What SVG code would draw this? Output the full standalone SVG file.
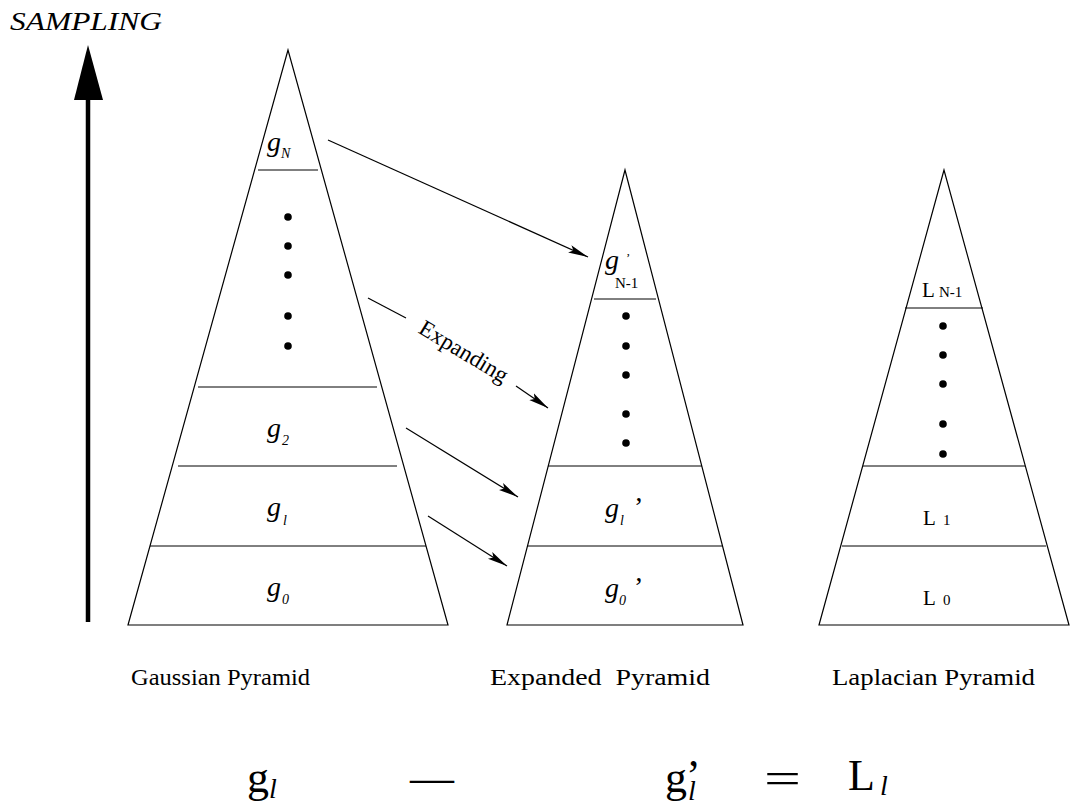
<svg xmlns="http://www.w3.org/2000/svg" width="1080" height="805" viewBox="0 0 1080 805">
<style>
text{font-family:"Liberation Serif","Times New Roman",Times,serif;fill:#000}
.edge{fill:none;stroke:#000;stroke-width:1.2}
.lvl{stroke:#000;stroke-width:1}
.dot{fill:#000}
.gi{font-style:italic;font-size:28px}
.sub{font-style:italic;font-size:14px}
.rm{font-size:21px}
.rs{font-size:15px}
.cap{font-size:24px}
.eq{font-size:44px}
.eqi{font-style:italic;font-size:28px}
.conn{stroke:#000;stroke-width:1.2;fill:none}
</style>
<defs>
<marker id="ah" viewBox="0 0 20 10" refX="20" refY="5" markerWidth="20" markerHeight="10" markerUnits="userSpaceOnUse" orient="auto">
<path d="M0,1 L20,5 L0,9 L4,5 Z" fill="#000"/>
</marker>
</defs>

<g id="sampling">
<text x="10" y="30" font-style="italic" font-size="25" textLength="152" lengthAdjust="spacingAndGlyphs">SAMPLING</text>
<line x1="88" y1="622" x2="88" y2="98" stroke="#000" stroke-width="4.5"/>
<path d="M88,45 L103,100 L74,100 Z" fill="#000"/>
</g>

<g id="gaussian">
<path class="edge" d="M288,50 L128,625 L448,625 Z"/>
<line class="lvl" x1="258" y1="170" x2="318" y2="170"/>
<line class="lvl" x1="198" y1="387" x2="377" y2="387"/>
<line class="lvl" x1="178" y1="466" x2="397" y2="466"/>
<line class="lvl" x1="150" y1="546" x2="426" y2="546"/>
<circle class="dot" cx="288" cy="217" r="3.8"/>
<circle class="dot" cx="288" cy="246" r="3.8"/>
<circle class="dot" cx="288" cy="275" r="3.8"/>
<circle class="dot" cx="288" cy="316" r="3.8"/>
<circle class="dot" cx="288" cy="346" r="3.8"/>
<text class="gi" x="267" y="151">g</text><text class="sub" x="281" y="158">N</text>
<text class="gi" x="267" y="437">g</text><text class="sub" x="282" y="445">2</text>
<text class="gi" x="267" y="516">g</text><text class="sub" x="283" y="525">l</text>
<text class="gi" x="267" y="596">g</text><text class="sub" x="282" y="604">0</text>
<text class="cap" x="131" y="685" textLength="179" lengthAdjust="spacingAndGlyphs">Gaussian Pyramid</text>
</g>

<g id="expanded">
<path class="edge" d="M625,170 L507,625 L743,625 Z"/>
<line class="lvl" x1="594" y1="299" x2="656" y2="299"/>
<line class="lvl" x1="548" y1="466" x2="702" y2="466"/>
<line class="lvl" x1="527" y1="546" x2="722" y2="546"/>
<circle class="dot" cx="626" cy="316" r="3.8"/>
<circle class="dot" cx="626" cy="346" r="3.8"/>
<circle class="dot" cx="626" cy="375" r="3.8"/>
<circle class="dot" cx="626" cy="414" r="3.8"/>
<circle class="dot" cx="626" cy="443" r="3.8"/>
<text class="gi" x="605" y="269">g</text><text x="626" y="262" font-size="13">’</text><text class="rs" x="615" y="288">N-1</text>
<text class="gi" x="605" y="517">g</text><text class="sub" x="620" y="525">l</text><text x="634" y="516" font-size="28">’</text>
<text class="gi" x="605" y="597">g</text><text class="sub" x="619" y="605">0</text><text x="634" y="596" font-size="28">’</text>
<text class="cap" x="490" y="685" textLength="220" lengthAdjust="spacingAndGlyphs" xml:space="preserve">Expanded  Pyramid</text>
</g>

<g id="laplacian">
<path class="edge" d="M944,170 L819,625 L1069,625 Z"/>
<line class="lvl" x1="905" y1="308" x2="983" y2="308"/>
<line class="lvl" x1="863" y1="466" x2="1025" y2="466"/>
<line class="lvl" x1="842" y1="546" x2="1046" y2="546"/>
<circle class="dot" cx="943" cy="326" r="3.8"/>
<circle class="dot" cx="943" cy="355" r="3.8"/>
<circle class="dot" cx="943" cy="384" r="3.8"/>
<circle class="dot" cx="943" cy="424" r="3.8"/>
<circle class="dot" cx="943" cy="454" r="3.8"/>
<text class="rm" x="922" y="297">L</text><text class="rs" x="939" y="297">N-1</text>
<text class="rm" x="923" y="525">L</text><text class="rs" x="943" y="525">1</text>
<text class="rm" x="923" y="605">L</text><text class="rs" x="943" y="605">0</text>
<text class="cap" x="832" y="685" textLength="203" lengthAdjust="spacingAndGlyphs">Laplacian Pyramid</text>
</g>

<g id="connectors">
<line class="conn" x1="328" y1="140" x2="588" y2="257" marker-end="url(#ah)"/>
<line class="conn" x1="368" y1="298" x2="406" y2="318"/>
<line class="conn" x1="516" y1="386" x2="548" y2="408" marker-end="url(#ah)"/>
<line class="conn" x1="406" y1="428" x2="518" y2="497" marker-end="url(#ah)"/>
<line class="conn" x1="428" y1="516" x2="507" y2="566" marker-end="url(#ah)"/>
<text x="460" y="358" font-size="23" text-anchor="middle" transform="rotate(31 460 358)">Expanding</text>
</g>

<g id="equation">
<text class="eq" x="247" y="792">g</text><text class="eqi" x="269" y="798">l</text>
<text class="eq" x="410" y="792">—</text>
<text class="eq" x="665" y="792">g</text><text class="eq" x="686" y="790" font-size="34">’</text><text class="eqi" x="688" y="800">l</text>
<text class="eq" x="764" y="793" font-size="70" textLength="37" lengthAdjust="spacingAndGlyphs">=</text>
<text class="eq" x="848" y="790">L</text><text class="eqi" x="880" y="795" font-size="24">l</text>
</g>
</svg>
